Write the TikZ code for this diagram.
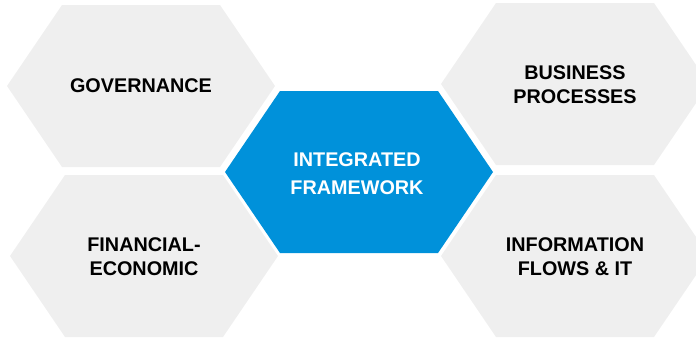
\documentclass[tikz,border=0pt]{standalone}
\usepackage{fontspec}
\setmainfont{Liberation Sans}
\definecolor{hexgrey}{HTML}{EFEFEF}
\definecolor{hexblue}{HTML}{0091DA}

\tikzset{
  hexa/.pic={
    \fill[pic actions] (-134,0) -- (-79,81) -- (79,81) -- (134,0)
      -- (79,-81) -- (-79,-81) -- cycle;
  },
  hextext/.style={font=\bfseries\fontsize{19.8}{24}\selectfont, align=center},
}

\begin{document}
\begin{tikzpicture}[x=1pt, y=-1pt]
    \useasboundingbox (0,0) rectangle (696,338);

    % the five cells
    \pic[fill=hexgrey] at (141,86) {hexa};
    \pic[fill=hexgrey] at (575,84) {hexa};
    \pic[fill=hexgrey] at (144,256) {hexa};
    \pic[fill=hexgrey] at (575,256) {hexa};
    \pic[fill=hexblue] at (359,172) {hexa};

    \node[hextext] (gov) at (141,86) {GOVERNANCE};
    \node[hextext] (bus) at (575,85) {BUSINESS\\PROCESSES};
    \node[hextext] (fin) at (144,257) {FINANCIAL-\\ECONOMIC};
    \node[hextext] (info) at (575,257) {INFORMATION\\FLOWS \& IT};
    \node[hextext, text=white, font=\bfseries\fontsize{19.8}{28}\selectfont]
      (core) at (357,174) {INTEGRATED\\FRAMEWORK};
\end{tikzpicture}
\end{document}
